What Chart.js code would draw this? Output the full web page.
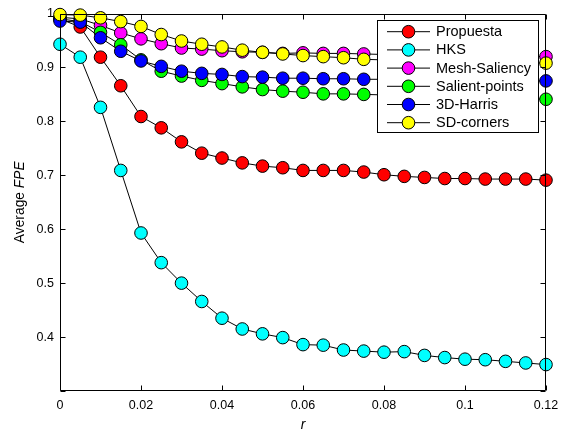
<!DOCTYPE html>
<html>
<head>
<meta charset="utf-8">
<script src="https://cdn.jsdelivr.net/npm/chart.js@4/dist/chart.umd.min.js"></script>
<style>
html,body{margin:0;padding:0;background:#fff;}
#wrap{width:568px;height:432px;position:relative;}
</style>
</head>
<body>
<div id="wrap"><canvas id="c" width="568" height="432"></canvas></div>
<script>
const rValues = [0,0.005,0.01,0.015,0.02,0.025,0.03,0.035,0.04,0.045,0.05,0.055,0.06,0.065,0.07,0.075,0.08,0.085,0.09,0.095,0.1,0.105,0.11,0.115,0.12];
const seriesNames = ['Propuesta','HKS','Mesh-Saliency','Salient-points','3D-Harris','SD-corners'];
const seriesColors = ['#ff0000','#00ffff','#ff00ff','#00ff00','#0000ff','#ffff00'];
const propuesta = [0.990,0.975,0.919,0.866,0.809,0.788,0.762,0.741,0.732,0.723,0.717,0.714,0.709,0.709,0.709,0.706,0.701,0.698,0.696,0.694,0.694,0.693,0.693,0.693,0.691];
const hks = [0.943,0.919,0.826,0.709,0.593,0.538,0.500,0.466,0.435,0.415,0.406,0.399,0.386,0.385,0.376,0.374,0.372,0.373,0.366,0.362,0.359,0.358,0.355,0.352,0.349];
const meshSaliency = [0.993,0.990,0.978,0.964,0.953,0.944,0.936,0.934,0.931,0.929,0.928,0.926,0.927,0.926,0.926,0.925,0.924,0.924,0.923,0.923,0.922,0.922,0.921,0.921,0.920];
const salientPoints = [0.990,0.985,0.965,0.942,0.914,0.893,0.884,0.876,0.870,0.864,0.859,0.856,0.854,0.851,0.851,0.850,0.849,0.848,0.847,0.846,0.845,0.844,0.843,0.842,0.841];
const harris3D = [0.986,0.984,0.955,0.930,0.912,0.902,0.893,0.889,0.887,0.883,0.882,0.880,0.880,0.879,0.879,0.878,0.878,0.877,0.877,0.877,0.876,0.876,0.876,0.875,0.875];
const sdCorners = [0.998,0.997,0.992,0.985,0.976,0.961,0.949,0.943,0.938,0.932,0.928,0.925,0.922,0.920,0.918,0.915,0.914,0.913,0.912,0.911,0.910,0.910,0.909,0.909,0.908];
const xTicks = [0,0.02,0.04,0.06,0.08,0.1,0.12];
const yTicks = [0.3,0.4,0.5,0.6,0.7,0.8,0.9,1];

const allSeries = [propuesta, hks, meshSaliency, salientPoints, harris3D, sdCorners];
const datasets = allSeries.map((vals, i) => ({
  label: seriesNames[i],
  data: vals.map((v, j) => ({x: rValues[j], y: v})),
  borderColor: '#000',
  borderWidth: 1,
  backgroundColor: seriesColors[i],
  pointBackgroundColor: seriesColors[i],
  pointBorderColor: '#000',
  pointBorderWidth: 1,
  pointRadius: 6.3,
  pointHoverRadius: 6.3,
  tension: 0,
  clip: false,
  order: allSeries.length - i
}));

function fmt(v){ return String(Number(v.toFixed(3))); }

const framePlugin = {
  id: 'frame',
  afterDatasetsDraw(chart) {
    const ctx = chart.ctx, a = chart.chartArea;
    const xs = chart.scales.x, ys = chart.scales.y;
    ctx.save();
    ctx.strokeStyle = '#000';
    ctx.lineWidth = 1;
    const L = Math.round(a.left)+0.5, R = Math.round(a.right)-0.5, T = Math.round(a.top)+0.5, B = Math.round(a.bottom)-0.5;
    ctx.beginPath();
    ctx.rect(L, T, R-L, B-T);
    ctx.stroke();
    const tl = 5;
    ctx.beginPath();
    xTicks.forEach(v => {
      const px = Math.round(xs.getPixelForValue(v))+0.5;
      ctx.moveTo(px, B); ctx.lineTo(px, B - tl);
      ctx.moveTo(px, T); ctx.lineTo(px, T + tl);
    });
    yTicks.forEach(v => {
      const py = Math.round(ys.getPixelForValue(v))+0.5;
      ctx.moveTo(L, py); ctx.lineTo(L + tl, py);
      ctx.moveTo(R, py); ctx.lineTo(R - tl, py);
    });
    ctx.stroke();

    // axis titles
    ctx.fillStyle = '#000';
    ctx.textBaseline = 'middle';
    ctx.font = 'italic 14px "Liberation Sans", Arial, sans-serif';
    ctx.textAlign = 'center';
    ctx.fillText('r', (a.left + a.right)/2, 425);
    ctx.save();
    ctx.translate(20, (a.top + a.bottom)/2);
    ctx.rotate(-Math.PI/2);
    const f1 = '13.8px "Liberation Sans", Arial, sans-serif';
    const f2 = 'italic 13.8px "Liberation Sans", Arial, sans-serif';
    ctx.font = f1; const w1 = ctx.measureText('Average ').width;
    ctx.font = f2; const w2 = ctx.measureText('FPE').width;
    const start = -(w1 + w2)/2;
    ctx.textAlign = 'left';
    ctx.font = f1; ctx.fillText('Average ', start, 0);
    ctx.font = f2; ctx.fillText('FPE', start + w1, 0);
    ctx.restore();

    // legend
    const bx = 377.5, by = 20.5, bw = 161, bh = 112;
    ctx.fillStyle = '#fff';
    ctx.fillRect(bx, by, bw, bh);
    ctx.strokeStyle = '#000';
    ctx.strokeRect(bx, by, bw, bh);
    ctx.font = '14.5px "Liberation Sans", Arial, sans-serif';
    ctx.textAlign = 'left';
    ctx.textBaseline = 'middle';
    seriesNames.forEach((name, i) => {
      const cy = 31.7 + i * 18.2;
      ctx.beginPath();
      ctx.strokeStyle = '#000';
      ctx.moveTo(387, cy); ctx.lineTo(430, cy);
      ctx.stroke();
      ctx.beginPath();
      ctx.arc(408.5, cy, 6.3, 0, Math.PI*2);
      ctx.fillStyle = seriesColors[i];
      ctx.fill();
      ctx.stroke();
      ctx.fillStyle = '#000';
      ctx.fillText(name, 436, cy + 0.5);
    });
    ctx.restore();
  }
};

new Chart(document.getElementById('c'), {
  type: 'line',
  data: { datasets },
  options: {
    responsive: false,
    animation: false,
    devicePixelRatio: 1,
    layout: { padding: { top: 13, right: 22, left: 0, bottom: 0 } },
    plugins: { legend: { display: false }, tooltip: { enabled: false } },
    scales: {
      x: {
        type: 'linear', min: 0, max: 0.12,
        afterBuildTicks(s){ s.ticks = xTicks.map(v => ({value: v})); },
        afterFit(s){ s.height = 41; },
        grid: { display: false, drawTicks: false },
        border: { display: false },
        ticks: { padding: 7, color: '#000', font: { family: '"Liberation Sans", Arial, sans-serif', size: 12.5 }, maxRotation: 0, callback: v => fmt(v) }
      },
      y: {
        type: 'linear', min: 0.3, max: 1.0,
        afterBuildTicks(s){ s.ticks = yTicks.map(v => ({value: v})); },
        afterFit(s){ s.width = 60; },
        grid: { display: false, drawTicks: false },
        border: { display: false },
        ticks: { padding: 6, color: '#000', font: { family: '"Liberation Sans", Arial, sans-serif', size: 12.5 }, callback: v => (Math.abs(v - 0.3) < 1e-9 ? '' : fmt(v)) }
      }
    }
  },
  plugins: [framePlugin]
});
</script>
</body>
</html>
